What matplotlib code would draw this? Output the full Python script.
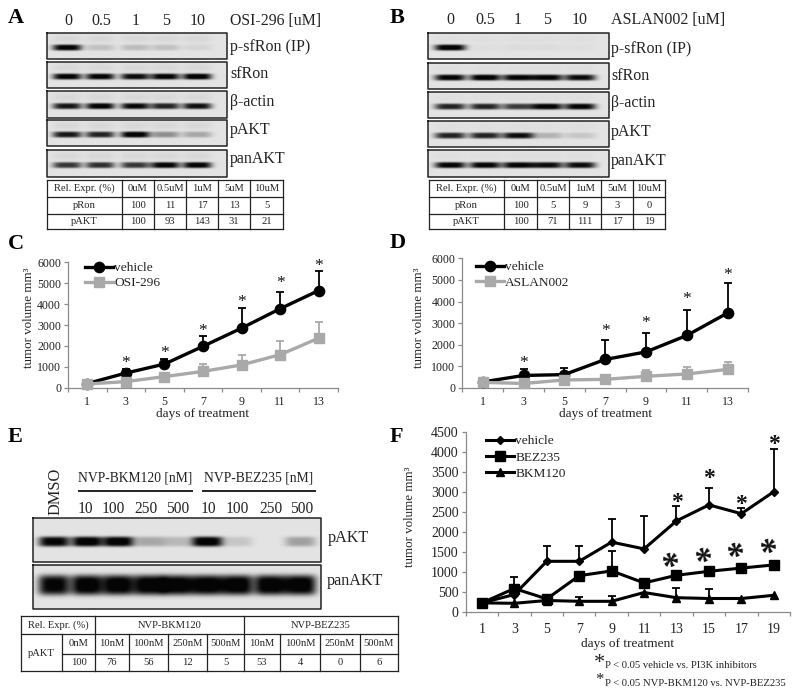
import matplotlib
matplotlib.use("Agg")
import matplotlib.pyplot as plt
import numpy as np

plt.rcParams['font.family'] = ['Liberation Serif', 'DejaVu Serif']

W, H = 800, 695

# blot band strengths, one row per antibody
a_lanes = [67, 100, 135, 165, 197]
a_rows = ["p-sfRon (IP)", "sfRon", "β-actin", "pAKT", "panAKT"]
a_bands = [[0.95, 0.14, 0.16, 0.14, 0.06],
           [0.95, 0.95, 0.90, 0.95, 1.00],
           [0.85, 0.97, 0.92, 0.80, 0.88],
           [0.85, 0.80, 1.00, 0.35, 0.25],
           [0.72, 0.75, 0.72, 0.95, 0.95]]
b_lanes = [450, 485, 518, 547, 580]
b_rows = a_rows
b_bands = [[1.00, 0.02, 0.03, 0.03, 0.02],
           [0.95, 1.00, 0.95, 0.95, 0.90],
           [0.80, 0.80, 0.70, 0.97, 0.95],
           [0.80, 0.80, 0.90, 0.20, 0.12],
           [0.95, 0.95, 0.95, 0.90, 0.90]]
e_lanes = [54, 87, 118, 149, 177, 207, 237, 270, 300]
e_rows = ["pAKT", "panAKT"]
e_bands = [[0.95, 1.00, 1.00, 0.25, 0.18, 1.00, 0.12, 0.00, 0.28],
           [0.95, 1.00, 1.00, 1.00, 1.00, 1.00, 1.00, 1.00, 1.00]]

# tables
a_table = [["Rel. Expr. (%)", "0uM", "0.5uM", "1uM", "5uM", "10uM"],
           ["pRon", "100", "11", "17", "13", "5"],
           ["pAKT", "100", "93", "143", "31", "21"]]
b_table = [["Rel. Expr. (%)", "0uM", "0.5uM", "1uM", "5uM", "10uM"],
           ["pRon", "100", "5", "9", "3", "0"],
           ["pAKT", "100", "71", "111", "17", "19"]]
e_conc = ["0nM", "10nM", "100nM", "250nM", "500nM", "10nM", "100nM", "250nM", "500nM"]
e_vals = ["100", "76", "56", "12", "5", "53", "4", "0", "6"]
e_doses = ["10", "100", "250", "500", "10", "100", "250", "500"]

# tumor curves
days_c = [1, 3, 5, 7, 9, 11, 13]
c_vehicle = [200, 700, 1130, 1980, 2850, 3780, 4650]
c_vehicle_top = [200, 900, 1350, 2470, 3800, 4600, 5560]
c_osi = [180, 290, 530, 780, 1090, 1580, 2370]
c_osi_top = [180, 290, 530, 1130, 1560, 2230, 3160]
c_stars = [1370, 1880, 2890, 4280, 5230, 6000]

d_vehicle = [280, 580, 620, 1320, 1670, 2430, 3470]
d_vehicle_top = [280, 900, 930, 2220, 2530, 3600, 4880]
d_aslan = [260, 210, 370, 400, 540, 650, 860]
d_aslan_top = [260, 210, 370, 400, 850, 970, 1200]
d_star_days = [3, 7, 9, 11, 13]
d_stars = [1370, 2840, 3220, 4330, 5430]

days_f = [1, 3, 5, 7, 9, 11, 13, 15, 17, 19]
f_vehicle = [220, 430, 1260, 1260, 1740, 1570, 2270, 2670, 2450, 3000]
f_vehicle_top = [220, 600, 1650, 1650, 2330, 2400, 2650, 3090, 2600, 4070]
f_bez = [220, 580, 320, 900, 1020, 720, 910, 1010, 1090, 1170]
f_bez_top = [220, 880, 320, 900, 1520, 720, 910, 1010, 1090, 1170]
f_bkm = [220, 210, 280, 260, 260, 480, 350, 330, 330, 410]
f_bkm_top = [220, 210, 280, 370, 390, 480, 590, 570, 330, 410]
f_star_days = [13, 15, 17, 19]
f_stars = [2870, 3460, 2830, 4330]
f_stars2 = [1310, 1440, 1560, 1670]


def rect(x0, y0, x1, y1):
    # pixel box (y down) to figure fractions
    return [x0 / W, 1 - y1 / H, (x1 - x0) / W, (y1 - y0) / H]


def blot(ax, box, lanes, strengths, half_w, half_h, ghost=0.0, frac=0.55):
    x0, y0, x1, y1 = box
    xs, ys = np.meshgrid(np.arange(x0, x1, 0.5), np.arange(y0, y1, 0.5))
    dark = np.zeros_like(xs, dtype=float)
    yc = y0 + (y1 - y0) * frac
    for lane, s in zip(lanes, strengths):
        bx = np.exp(-((xs - lane) / half_w) ** 4)
        dark = dark + s * bx * np.exp(-((ys - yc) / half_h) ** 4)
        dark = dark + ghost * bx * np.exp(-((ys - yc + 9) / 4.0) ** 2)
    img = 0.89 - 0.95 * np.clip(dark, 0, 1)
    ax.imshow(np.clip(img, 0.02, 1), cmap="gray", vmin=0, vmax=1, extent=(x0, x1, y1, y0),
              aspect="auto", interpolation="bilinear", zorder=1)
    ax.plot([x0, x1, x1, x0, x0], [y0, y0, y1, y1, y0], color="#222222", lw=1.1, zorder=2)


def grid(ax, xs, ys):
    for x in xs:
        ax.plot([x, x], [ys[0], ys[-1]], color="#222222", lw=0.9)
    for y in ys:
        ax.plot([xs[0], xs[-1]], [y, y], color="#222222", lw=0.9)


def fill_table(ax, table, xs, ys):
    for r, row in enumerate(table):
        for c, val in enumerate(row):
            ax.text((xs[c] + xs[c + 1]) / 2, (ys[r] + ys[r + 1]) / 2, val, ha="center",
                    va="center", fontsize=7.6, color="#222222")


def star(ax, x, y, size, rotation=0, weight="normal"):
    # glyph sits about 0.47 em above the baseline
    ax.annotate("*", (x, y), xytext=(0, -0.47 * size), textcoords="offset points", ha="center",
                va="baseline", fontsize=size, rotation=rotation, rotation_mode="anchor",
                fontweight=weight, color="#111111", annotation_clip=False, zorder=6)


def curve_axes(box, xmax, ymax, ystep, tick_fs, pad, label_xy):
    ax = fig.add_axes(rect(*box))
    ax.patch.set_alpha(0)
    ax.set_xlim(0, xmax)
    ax.set_ylim(0, ymax)
    for side in ["top", "right"]:
        ax.spines[side].set_visible(False)
    for side in ["left", "bottom"]:
        ax.spines[side].set_color("#8a8a8a")
        ax.spines[side].set_linewidth(0.9)
    ax.set_yticks(np.arange(0, ymax + 1, ystep))
    ax.set_xticks(np.arange(0, xmax + 1, 2))
    ax.set_xticklabels([])
    ax.set_xticks(np.arange(1, xmax, 2), minor=True)
    ax.set_xticklabels([str(d) for d in np.arange(1, xmax, 2)], minor=True)
    ax.tick_params(axis="x", which="major", length=3, color="#8a8a8a", width=0.9)
    ax.tick_params(axis="x", which="minor", length=0, pad=pad, labelsize=tick_fs, labelcolor="#222222")
    ax.tick_params(axis="y", length=3, color="#8a8a8a", width=0.9, pad=2, labelsize=tick_fs, labelcolor="#222222")
    ax.set_ylabel("tumor volume mm³", fontsize=9.4, color="#222222")
    ax.yaxis.set_label_coords((label_xy[0] + 8 - box[0]) / (box[2] - box[0]),
                              (box[3] - label_xy[2]) / (box[3] - box[1]))
    ax.set_xlabel("days of treatment", fontsize=9.6, color="#222222")
    ax.xaxis.set_label_coords(0.5, -(label_xy[1] - 5 - box[3]) / (box[3] - box[1]))
    return ax


def series(ax, x, y, top, color, marker, ms, label, lw=2.4):
    x, y, top = np.array(x), np.array(y), np.array(top)
    up = top > y
    ax.vlines(x[up], y[up], top[up], color=color, lw=1.3, zorder=2)
    ax.plot(x[up], top[up], ls="none", marker="_", ms=5.5, mew=1.3, color=color, zorder=2)
    ax.plot(x, y, color=color, lw=lw, marker=marker, ms=ms, label=label, clip_on=False, zorder=3)


def legend(ax, x, y, spacing, handle):
    ax.legend(loc="upper left", bbox_to_anchor=(x / W, 1 - y / H),
              bbox_transform=fig.transFigure, frameon=False, fontsize=9.6, borderpad=0,
              borderaxespad=0, handletextpad=0.1, labelspacing=spacing, handlelength=handle,
              labelcolor="#222222")


fig = plt.figure(figsize=(W / 100, H / 100), dpi=100)
page = fig.add_axes([0, 0, 1, 1])
page.axis("off")

# panel letters
for letter, x, y in [("A", 8, 18), ("B", 390, 18), ("C", 8, 244), ("D", 390, 243), ("E", 8, 437), ("F", 390, 437)]:
    page.text(x, y, letter, fontsize=16, fontweight="bold", va="center", color="black")

# panel A
a_boxes = [(47, 33, 227, 59), (47, 62, 227, 88), (47, 91, 227, 118), (47, 120, 227, 146), (47, 150, 227, 177)]
a_label_y = [47, 74, 102, 130, 159]
for box, row, bands, ly in zip(a_boxes, a_rows, a_bands, a_label_y):
    blot(page, box, a_lanes, bands, 14.5, 3.0, ghost=0.05)
    page.text(230, ly, row, fontsize=11.5, va="center", color="#222222")
for lane, t in zip(a_lanes, ["0", "0.5", "1", "5", "10"]):
    page.text(lane + 1, 21, t, fontsize=11.5, ha="center", va="center", color="#222222")
page.text(230, 21, "OSI-296 [uM]", fontsize=11.4, va="center", color="#222222")
a_x = [47, 122, 154, 186, 218, 250, 283]
t_y = [180, 197, 214, 229]
grid(page, a_x, t_y)
fill_table(page, a_table, a_x, t_y)

# panel B
b_boxes = [(428, 33, 609, 59), (428, 63, 609, 89), (428, 92, 609, 118), (428, 121, 609, 147), (428, 150, 609, 177)]
b_label_y = [49, 76, 103, 132, 161]
for box, row, bands, ly in zip(b_boxes, b_rows, b_bands, b_label_y):
    blot(page, box, b_lanes, bands, 15.5, 3.0, ghost=0.02)
    page.text(611, ly, row, fontsize=11.5, va="center", color="#222222")
for lane, t in zip(b_lanes, ["0", "0.5", "1", "5", "10"]):
    page.text(lane, 20, t, fontsize=11.5, ha="center", va="center", color="#222222")
page.text(611, 20, "ASLAN002 [uM]", fontsize=11.5, va="center", color="#222222")
b_x = [429, 504, 537, 569, 601, 633, 665]
grid(page, b_x, t_y)
fill_table(page, b_table, b_x, t_y)

# panel E
e_boxes = [(33, 518, 321, 562), (33, 565, 321, 609)]
blot(page, e_boxes[0], e_lanes, e_bands[0], 15.5, 5.0, frac=0.53)
blot(page, e_boxes[1], e_lanes, e_bands[1], 16.0, 10.0, frac=0.45)
page.text(328, 538, e_rows[0], fontsize=11.6, va="center", color="#222222")
page.text(327, 581, e_rows[1], fontsize=11.6, va="center", color="#222222")
page.text(55, 491, "DMSO", fontsize=11.8, rotation=90, ha="center", va="center", color="#222222")
for x, t in zip([135, 259], ["NVP-BKM120 [nM]", "NVP-BEZ235 [nM]"]):
    page.text(x, 478, t, fontsize=9.8, ha="center", va="center", color="#222222")
page.plot([79, 192], [491, 491], color="#222222", lw=1.4)
page.plot([203, 315], [491, 491], color="#222222", lw=1.4)
for x, t in zip([85, 113, 146, 178, 208, 237, 271, 302], e_doses):
    page.text(x, 509, t, fontsize=11.2, ha="center", va="center", color="#222222")

e_x = [21, 62, 95, 129, 168, 207, 244, 280, 320, 360, 398]
e_y = [616, 634, 654, 671]
for x in [21, 95, 244, 398]:
    page.plot([x, x], [e_y[0], e_y[-1]], color="#222222", lw=0.9)
for x in [62, 129, 168, 207, 280, 320, 360]:
    page.plot([x, x], [e_y[1], e_y[-1]], color="#222222", lw=0.9)
for y in [e_y[0], e_y[1], e_y[3]]:
    page.plot([e_x[0], e_x[-1]], [y, y], color="#222222", lw=0.9)
page.plot([e_x[1], e_x[-1]], [e_y[2], e_y[2]], color="#222222", lw=0.9)
for x, t in zip([58, 169.5, 321], ["Rel. Expr. (%)", "NVP-BKM120", "NVP-BEZ235"]):
    page.text(x, 625, t, fontsize=7.6, ha="center", va="center", color="#222222")
page.text(41.5, 654, "pAKT", fontsize=7.6, ha="center", va="center", color="#222222")
for c in range(len(e_conc)):
    mid = (e_x[c + 1] + e_x[c + 2]) / 2
    page.text(mid, 644, e_conc[c], fontsize=7.6, ha="center", va="center", color="#222222")
    page.text(mid, 662.5, e_vals[c], fontsize=7.6, ha="center", va="center", color="#222222")

# footnote of panel F
page.text(605, 665, "P < 0.05 vehicle vs. PI3K inhibitors", fontsize=7.7, va="center", color="#222222")
page.text(605, 683, "P < 0.05 NVP-BKM120 vs. NVP-BEZ235", fontsize=7.7, va="center", color="#222222")
page.annotate("*", (599, 658), xytext=(0, -7.5), textcoords="offset points", fontsize=16, ha="center", color="#222222")
page.annotate("*", (599, 676), xytext=(0, -5.6), textcoords="offset points", fontsize=12, ha="center", color="#222222")

page.set_xlim(0, W)
page.set_ylim(H, 0)

# panel C
ax_c = curve_axes((68, 262.3, 338, 387.7), 14, 6000, 1000, 8.6, 6, (27, 413, 318))
series(ax_c, days_c, c_vehicle, c_vehicle_top, "black", "o", 7.4, "vehicle")
series(ax_c, days_c, c_osi, c_osi_top, "#a9a9a9", "s", 7.4, "OSI-296")
for d, y in zip(days_c[1:], c_stars):
    star(ax_c, d, y, 12.5)
legend(ax_c, 85, 262, 0.2, 2.1)

# panel D
ax_d = curve_axes((462.3, 258.3, 748, 388), 14, 6000, 1000, 8.6, 6, (417, 413, 318))
series(ax_d, days_c, d_vehicle, d_vehicle_top, "black", "o", 7.4, "vehicle")
series(ax_d, days_c, d_aslan, d_aslan_top, "#a9a9a9", "s", 7.4, "ASLAN002")
for d, y in zip(d_star_days, d_stars):
    star(ax_d, d, y, 12.5)
legend(ax_d, 476, 261, 0.25, 2.1)

# panel F
ax_f = curve_axes((465.7, 431.7, 790, 611.7), 20, 4500, 500, 10, 8, (408, 643, 517))
series(ax_f, days_f, f_vehicle, f_vehicle_top, "black", "D", 4.2, "vehicle", lw=2.2)
series(ax_f, days_f, f_bez, f_bez_top, "black", "s", 7.4, "BEZ235", lw=2.2)
series(ax_f, days_f, f_bkm, f_bkm_top, "black", "^", 6.4, "BKM120", lw=2.2)
for d, y in zip(f_star_days, f_stars):
    star(ax_f, d, y, 17, weight="bold")
for d, y in zip(f_star_days, f_stars2):
    star(ax_f, d, y, 25, rotation=20, weight="bold")
legend(ax_f, 486, 435, 0.3, 2.1)

fig.savefig("out.png", dpi=100)
